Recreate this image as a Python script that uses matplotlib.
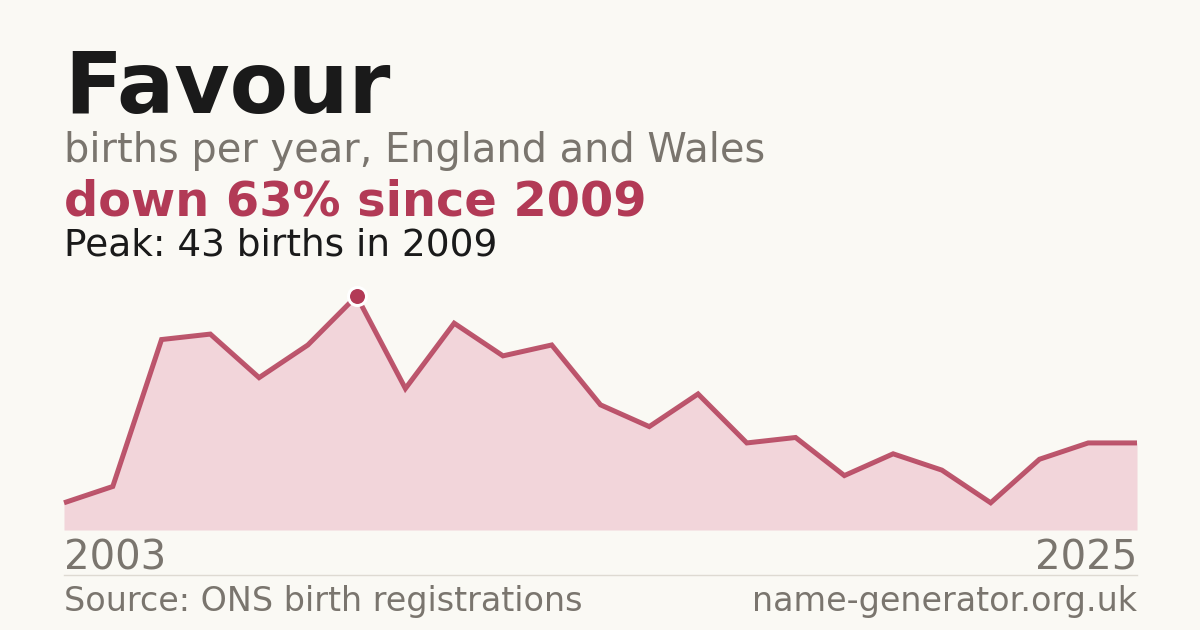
import matplotlib
matplotlib.use("Agg")
import matplotlib.pyplot as plt
from matplotlib.lines import Line2D

years = list(range(2003, 2026))
births = [5, 8, 35, 36, 28, 34, 43, 26, 38, 32, 34, 23, 19, 25, 16, 17, 10, 14, 11, 5, 13, 16, 16]

title = "Favour"
subtitle = "births per year, England and Wales"
headline = "down 63% since 2009"
peak_text = "Peak: 43 births in 2009"
source = "Source: ONS birth registrations"
site = "name-generator.org.uk"

BG = "#faf9f4"
RED = "#b23a56"
FILL = "#f2d5da"
GRAY = "#7a756e"
DARK = "#1a1a1a"

W, H = 1200, 630
fig = plt.figure(figsize=(12, 6.3), dpi=100, facecolor=BG)
plt.rcParams['font.family'] = ['DejaVu Sans']

def fx(px):
    return px / W

def fy(py):
    return 1 - py / H

left, right, top, bottom = 64, 1137, 296, 530
ax = fig.add_axes([fx(left), fy(bottom), fx(right - left), (bottom - top) / H])
ax.set_facecolor(BG)
ax.fill_between(years, births, 0, color=FILL, lw=0)
ax.plot(years, births, color=RED, lw=3.6, alpha=0.85, solid_joinstyle='miter',
        solid_capstyle='butt', clip_on=False)
pk = births.index(max(births))
ax.plot([years[pk]], [births[pk]], marker='o', ms=13, mfc=RED, mec="#ffffff", mew=2.2,
        clip_on=False, zorder=5)
ax.set_xlim(years[0], years[-1])
ax.set_ylim(0, max(births))
ax.axis('off')

fig.text(fx(64), fy(113), title, fontsize=61.2, fontweight='bold', color=DARK, va='baseline', ha='left')
fig.text(fx(64), fy(162), subtitle, fontsize=28.7, color=GRAY, va='baseline', ha='left')
fig.text(fx(64), fy(215), headline, fontsize=34.5, fontweight='bold', color=RED, va='baseline', ha='left')
fig.text(fx(64), fy(256), peak_text, fontsize=27, color=DARK, va='baseline', ha='left')

fig.text(fx(64), fy(570), str(years[0]), fontsize=29, color=GRAY, va='baseline', ha='left')
fig.text(fx(1137), fy(570), str(years[-1]), fontsize=29, color=GRAY, va='baseline', ha='right')

fig.add_artist(Line2D([fx(64), fx(1137)], [fy(574.5), fy(574.5)], color="#dedad2", lw=1))

fig.text(fx(64), fy(611), source, fontsize=24, color=GRAY, va='baseline', ha='left')
fig.text(fx(1137), fy(611), site, fontsize=24, color=GRAY, va='baseline', ha='right')

fig.savefig("out.png", dpi=100, facecolor=BG)
